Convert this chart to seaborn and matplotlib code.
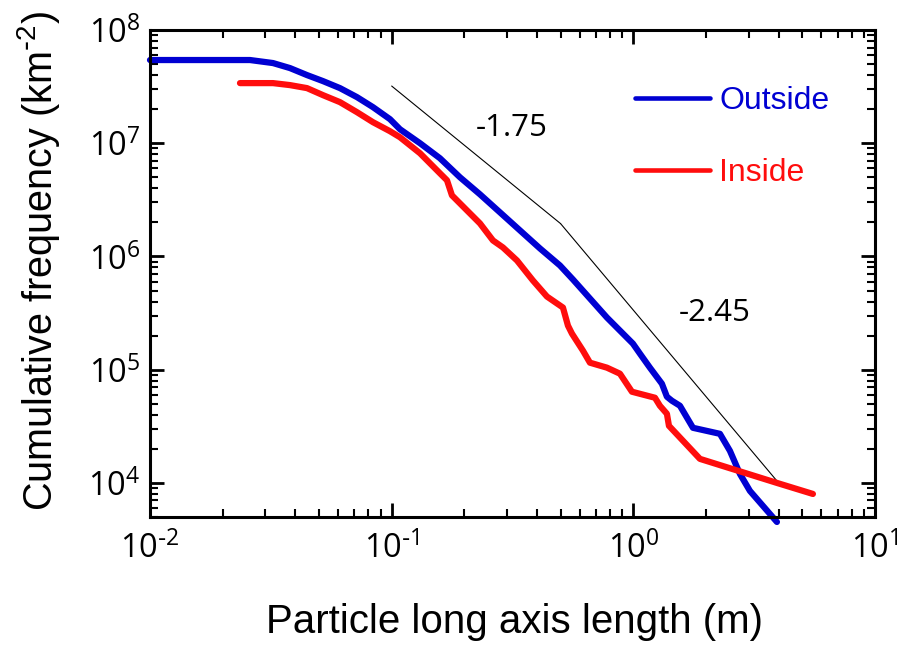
import numpy as np
import pandas as pd
import matplotlib
matplotlib.use("Agg")
import matplotlib.pyplot as plt
from matplotlib.ticker import FuncFormatter, LogLocator
import seaborn as sns

# cumulative size-frequency curves
outside_len = [0.01, 0.02594, 0.03228, 0.03795, 0.04463, 0.05197, 0.06110, 0.07184,
               0.08369, 0.09840, 0.1082, 0.1310, 0.1584, 0.1917, 0.2319, 0.2806,
               0.3395, 0.4108, 0.4970, 0.5626, 0.6614, 0.7777, 0.8802, 0.9961,
               1.065, 1.171, 1.313, 1.377, 1.444, 1.559, 1.765, 2.282, 2.510,
               2.761, 3.037, 3.928]
outside_freq = [5.43e7, 5.43e7, 5.105e7, 4.610e7, 3.998e7, 3.538e7, 3.067e7, 2.554e7,
                2.083e7, 1.631e7, 1.330e7, 1.0e7, 7.368e6, 5.002e6, 3.538e6, 2.452e6,
                1.699e6, 1.177e6, 8.326e5, 6.259e5, 4.250e5, 2.886e5, 2.214e5, 1.699e5,
                1.385e5, 1.042e5, 7.516e4, 5.770e4, 5.318e4, 4.802e4, 3.067e4, 2.714e4,
                1.920e4, 1.201e4, 8.50e3, 4.52e3]

inside_len = [0.02357, 0.03228, 0.03795, 0.04463, 0.05197, 0.06110, 0.07184, 0.08369,
              0.09840, 0.1082, 0.1310, 0.1584, 0.1694, 0.1776, 0.2048, 0.2319,
              0.2625, 0.2887, 0.3300, 0.3842, 0.4390, 0.5114, 0.5363, 0.5572,
              0.6186, 0.6614, 0.7777, 0.8802, 0.9867, 1.229, 1.288, 1.377, 1.404,
              1.886, 3.928, 5.535]
inside_freq = [3.396e7, 3.396e7, 3.261e7, 3.067e7, 2.659e7, 2.306e7, 1.881e7, 1.534e7,
               1.277e7, 1.130e7, 8.155e6, 5.427e6, 4.706e6, 3.465e6, 2.554e6, 1.959e6,
               1.385e6, 1.201e6, 9.218e5, 6.132e5, 4.426e5, 3.538e5, 2.452e5, 2.083e5,
               1.473e5, 1.153e5, 1.042e5, 9.218e4, 6.389e4, 5.652e4, 4.802e4, 4.080e4,
               3.194e4, 1.631e4, 1.0e4, 7.99e3]

# power-law guides
guide1_len = [0.1, 0.5]
guide1_freq = [3.2e7, 1.95e6]
guide2_len = [0.5, 3.93]
guide2_freq = [1.95e6, 1.04e4]
slope_labels = ["-1.75", "-2.45"]
slope_pos = [(0.315, 1.36e7), (2.18, 3.19e5)]

colors = {"Outside": "#0000d2", "Inside": "#ff0d0d"}

sns.set_style("ticks")
plt.rcParams["font.family"] = ["Liberation Sans", "DejaVu Sans"]
plt.rcParams["mathtext.default"] = "regular"
for key in ["text.color", "axes.labelcolor", "xtick.color", "ytick.color", "axes.edgecolor"]:
    plt.rcParams[key] = "black"

df = pd.concat([
    pd.DataFrame({"length": outside_len, "freq": outside_freq, "site": "Outside"}),
    pd.DataFrame({"length": inside_len, "freq": inside_freq, "site": "Inside"}),
])

fig = plt.figure(figsize=(8.98, 6.45), dpi=100)
ax = fig.add_axes([150/898, 1-517/645, 725/898, 487/645])

ax.plot(guide1_len, guide1_freq, color="k", lw=0.8)
ax.plot(guide2_len, guide2_freq, color="k", lw=0.8)

sns.lineplot(data=df, x="length", y="freq", hue="site", hue_order=["Outside", "Inside"],
             palette=colors, estimator=None, sort=False, lw=4.5, ax=ax)
for ln in ax.lines[2:]:
    ln.set_clip_on(False)

ax.set(xscale="log", yscale="log", xlim=(1e-2, 1e1), ylim=(5e3, 1e8))


def pow10(v, pos):
    e = int(round(np.log10(v)))
    if e < 0:
        return r"$10^{\text{-}%d}$" % -e
    return "$10^{%d}$" % e


tick_font = "Open Sans"
ax.xaxis.set_major_formatter(FuncFormatter(pow10))
ax.yaxis.set_major_formatter(FuncFormatter(pow10))
ax.xaxis.set_major_locator(LogLocator(base=10, numticks=10))
ax.yaxis.set_major_locator(LogLocator(base=10, numticks=10))
ax.tick_params(which="both", direction="in", top=True, right=True)
ax.tick_params(which="major", length=10, width=2, labelsize=23.5)
ax.tick_params(which="minor", length=6, width=1.5)
ax.tick_params(axis="x", which="major", pad=11)
ax.tick_params(axis="y", which="major", pad=7)
for lab in ax.get_xticklabels() + ax.get_yticklabels():
    lab.set_family(tick_font)
for sp in ax.spines.values():
    sp.set_linewidth(2.2)

ax.set_xlabel("Particle long axis length (m)", fontsize=29)
ax.set_ylabel(r"Cumulative frequency (km$^{\text{-}2}$)", fontsize=28.5)
ax.xaxis.set_label_coords(0.503, -0.177)
ax.yaxis.set_label_coords(-0.121, 0.526)

for txt, (x, y) in zip(slope_labels, slope_pos):
    ax.text(x, y, txt, fontsize=22.5, family=tick_font, ha="center", va="center")

handles, labels = ax.get_legend_handles_labels()
ax.get_legend().remove()
leg = ax.legend(handles, labels, loc="upper left", bbox_to_anchor=(635/898, 1-86/645),
                bbox_transform=fig.transFigure, frameon=False, fontsize=23,
                labelspacing=1.32, handlelength=2.34, handletextpad=0.3,
                borderpad=0, borderaxespad=0, labelcolor="linecolor")
for h in leg.legend_handles:
    h.set_linewidth(3.3)

fig.savefig("out.png", dpi=100)
